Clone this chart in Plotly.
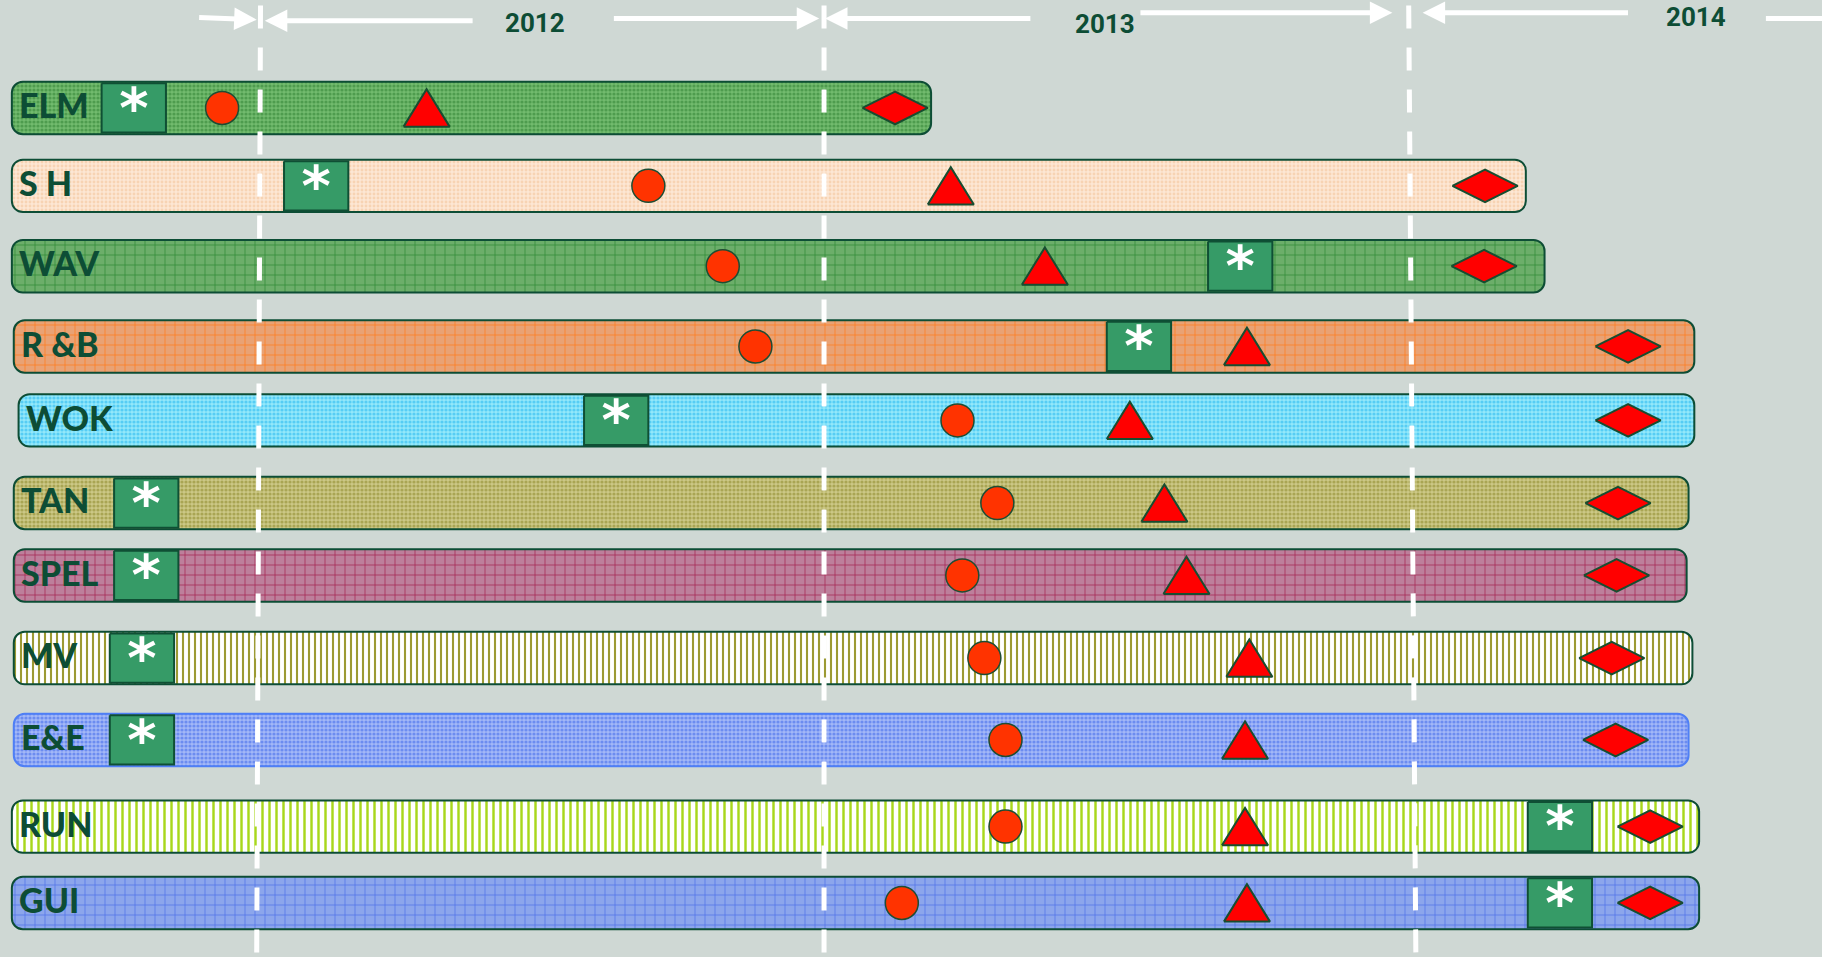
import plotly.graph_objects as go

# ---------------- data (months from Jan 2012) ----------------
projects = ["ELM", "S H", "WAV", "R &B", "WOK", "TAN", "SPEL", "MV", "E&E", "RUN", "GUI"]
bar_start = [-5.17, -5.17, -5.17, -5.13, -5.03, -5.13, -5.13, -5.13, -5.13, -5.17, -5.17]
bar_end = [13.98, 26.37, 26.76, 29.88, 29.88, 29.76, 29.72, 29.84, 29.76, 29.98, 29.98]
star_month = [-2.63, 1.17, 20.42, 18.31, 7.42, -2.37, -2.37, -2.46, -2.46, 27.08, 27.08]
circle_month = [-0.79, 8.09, 9.64, 10.32, 14.53, 15.36, 14.63, 15.09, 15.53, 15.53, 13.37]
triangle_month = [3.47, 14.39, 16.35, 20.56, 18.12, 18.84, 19.30, 20.61, 20.52, 20.52, 20.56]
diamond_month = [13.23, 25.52, 25.50, 28.50, 28.50, 28.29, 28.26, 28.16, 28.24, 28.96, 28.96]

year_labels = ["2012", "2013", "2014"]
year_label_month = [5.72, 17.61, 29.91]
year_line_top = [0.01, 11.75, 23.93]
year_line_bottom = [-0.07, 11.75, 24.08]

# ---------------- layout / styles ----------------
BG = "#cfd8d4"
DARK = "#0d4d35"
# vertical placement of each row (row units, hand-laid-out spacing)
row_y = [0.0, 0.98, 1.99, 3.0, 3.93, 4.97, 5.88, 6.92, 7.95, 9.04, 10.0]

bar_styles = [
    dict(bg="#72bb6e", fg="#4e9c4e", shape=".", size=4, sol=0.5, line=DARK),
    dict(bg="#fde7d4", fg="#f7d3b3", shape=".", size=4, sol=0.4, line=DARK),
    dict(bg="#6cae6a", fg="#2f8a34", shape="+", size=10, sol=0.14, line=DARK),
    dict(bg="#e9a274", fg="#ff781c", shape="+", size=10, sol=0.14, line=DARK),
    dict(bg="#93e9fb", fg="#56cdf4", shape=".", size=4, sol=0.5, line=DARK),
    dict(bg="#ccc886", fg="#a9a553", shape=".", size=4, sol=0.5, line=DARK),
    dict(bg="#bd7f9b", fg="#a3234f", shape="+", size=10, sol=0.14, line=DARK),
    dict(bg="#ffffff", fg="#9c9a33", shape="|", size=6, sol=0.35, line=DARK),
    dict(bg="#a3b8f8", fg="#6c8cf0", shape=".", size=4, sol=0.5, line="#4f7ff5"),
    dict(bg="#ffffff", fg="#a8d81c", shape="|", size=7, sol=0.35, line=DARK),
    dict(bg="#8ca6ec", fg="#4f70e8", shape="+", size=10, sol=0.14, line=DARK),
]

BAR_H = 0.66
SQ_W, SQ_H = 0.67, 0.31
TRI_W, TRI_H = 0.48, 0.235
DIA_W, DIA_H = 0.68, 0.205

fig = go.Figure()

# bars
for y, p, s, e, st in zip(row_y, projects, bar_start, bar_end, bar_styles):
    fig.add_trace(go.Bar(
        y=[y], x=[e - s], base=[s], orientation="h", width=BAR_H,
        marker=dict(
            color=st["bg"], cornerradius=11,
            line=dict(color=st["line"], width=2),
            pattern=dict(shape=st["shape"], fgcolor=st["fg"], bgcolor=st["bg"],
                         size=st["size"], solidity=st["sol"], fillmode="replace"),
        ),
        hoverinfo="skip", showlegend=False,
    ))

# dashed year boundaries
y_top, y_bot = -1.29, 10.75
for t, b in zip(year_line_top, year_line_bottom):
    fig.add_trace(go.Scatter(
        x=[t, b], y=[y_top, y_bot], mode="lines",
        line=dict(color="white", width=5, dash="23px,19px"),
        hoverinfo="skip", showlegend=False,
    ))

# squares
sx, sy = [], []
for y, m in zip(row_y, star_month):
    sx += [m - SQ_W, m + SQ_W, m + SQ_W, m - SQ_W, m - SQ_W, None]
    sy += [y - SQ_H, y - SQ_H, y + SQ_H, y + SQ_H, y - SQ_H, None]
fig.add_trace(go.Scatter(x=sx, y=sy, mode="lines", fill="toself", fillcolor="#369b67",
                         line=dict(color="#0f4f34", width=2), hoverinfo="skip", showlegend=False))
fig.add_trace(go.Scatter(x=star_month, y=[y + 0.06 for y in row_y], mode="text", text=["*"] * len(row_y),
                         textfont=dict(family="DejaVu Sans", size=56, color="white", weight="bold"),
                         hoverinfo="skip", showlegend=False))

# circles
fig.add_trace(go.Scatter(x=circle_month, y=row_y, mode="markers",
                         marker=dict(symbol="circle", size=33, color="#ff3300",
                                     line=dict(color="#1e4d33", width=1.5)),
                         hoverinfo="skip", showlegend=False))

# triangles
tx, ty = [], []
for y, m in zip(row_y, triangle_month):
    tx += [m - TRI_W, m, m + TRI_W, m - TRI_W, None]
    ty += [y + TRI_H, y - TRI_H, y + TRI_H, y + TRI_H, None]
fig.add_trace(go.Scatter(x=tx, y=ty, mode="lines", fill="toself", fillcolor="#ff0000",
                         line=dict(color="#174d30", width=2), hoverinfo="skip", showlegend=False))

# diamonds
dx, dy = [], []
for y, m in zip(row_y, diamond_month):
    dx += [m - DIA_W, m, m + DIA_W, m, m - DIA_W, None]
    dy += [y, y - DIA_H, y, y + DIA_H, y, None]
fig.add_trace(go.Scatter(x=dx, y=dy, mode="lines", fill="toself", fillcolor="#ff0000",
                         line=dict(color="#174d30", width=2), hoverinfo="skip", showlegend=False))

annotations = []
# project labels
for y, p, s in zip(row_y, projects, bar_start):
    annotations.append(dict(x=s, y=y - 0.04, text=p, showarrow=False, xanchor="left", xshift=5,
                            font=dict(family="Lato", size=34, color=DARK, weight=900)))
# year labels
for lab, m, yy in zip(year_labels, year_label_month, [-1.07, -1.05, -1.15]):
    annotations.append(dict(x=m, y=yy, text=lab, showarrow=False,
                            font=dict(family="Roboto", size=26, color=DARK, weight="bold")))
# header arrows: (head_x, head_y, tail_x, tail_y)
arrows = [(-0.07, -1.11, -1.30, -1.14), (0.10, -1.096, 4.46, -1.096),
          (11.65, -1.125, 7.34, -1.125), (11.77, -1.125, 16.08, -1.125),
          (23.59, -1.198, 18.31, -1.198), (24.22, -1.198, 28.53, -1.198)]
for hx, hy, tx_, ty_ in arrows:
    annotations.append(dict(x=hx, y=hy, ax=tx_, ay=ty_, xref="x", yref="y", axref="x", ayref="y",
                            showarrow=True, arrowhead=2, arrowsize=0.9, arrowwidth=5, arrowcolor="white",
                            text=""))
annotations.append(dict(x=32.6, y=-1.125, ax=31.34, ay=-1.125, xref="x", yref="y", axref="x", ayref="y",
                        showarrow=True, arrowhead=0, arrowwidth=5, arrowcolor="white", text=""))

fig.update_layout(
    width=1822, height=957,
    margin=dict(l=0, r=0, t=0, b=0),
    paper_bgcolor=BG, plot_bgcolor=BG,
    barmode="overlay",
    xaxis=dict(range=[-5.417, 32.54], visible=False, fixedrange=True),
    yaxis=dict(range=[10.68, -1.358], visible=False, fixedrange=True),
    annotations=annotations,
    showlegend=False,
)

fig.write_html(
    "out.html",
    config={"displayModeBar": False},
    post_script="document.body.style.margin='0';document.body.style.padding='0';"
                "document.body.style.overflow='hidden';document.body.style.background='" + BG + "';",
)
